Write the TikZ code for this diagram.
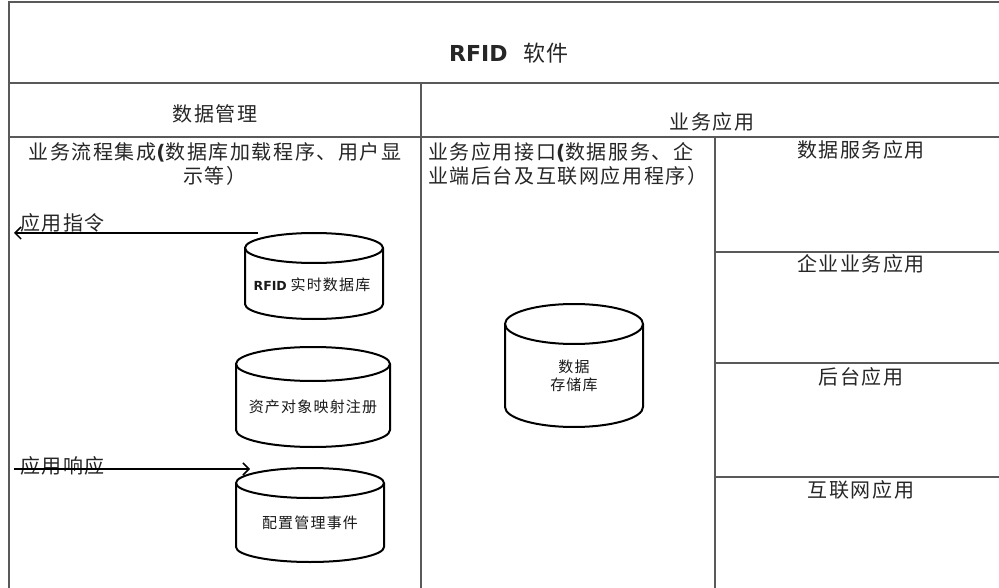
\documentclass[tikz,border=0pt]{standalone}
\usepackage{fontspec}
\setmainfont{DejaVu Sans}
\newfontfamily\cjk[LetterSpace=8]{Noto Sans CJK SC}
\usetikzlibrary{arrows.meta}
\tikzset{
  frameline/.style={draw=black!65, line width=1.4pt},
  cylline/.style={draw=black, line width=2pt},
  txt/.style={inner sep=0pt, text=black!85, font=\cjk\fontsize{20}{24}\selectfont},
  cyltxt/.style={inner sep=0pt, text=black!90, font=\cjk\fontsize{15}{18}\selectfont, align=center},
  flowarrow/.style={draw=black, line width=1.5pt, -{Straight Barb[length=6pt,width=12pt]}},
}
\newcommand\dbcyl[5]{%
  \draw[cylline] (#1,-#2-#5) ellipse [x radius=#4, y radius=#5];
  \draw[cylline] (#1-#4,-#2-#5) -- (#1-#4,-#3+#5)
     arc[start angle=180, end angle=360, x radius=#4, y radius=#5] -- (#1+#4,-#2-#5);
}
\begin{document}
\begin{tikzpicture}[x=1pt,y=1pt]
\useasboundingbox (0,0) rectangle (999,-588);
\fill[white] (0,0) rectangle (999,-588);
% frame
\draw[frameline] (9,-600) -- (9,-2) -- (1010,-2);
\draw[frameline] (9,-83) -- (1010,-83);
\draw[frameline] (9,-137) -- (1010,-137);
\draw[frameline] (421,-83) -- (421,-600);
\draw[frameline] (715,-137) -- (715,-600);
\draw[frameline] (715,-252) -- (1010,-252);
\draw[frameline] (715,-363) -- (1010,-363);
\draw[frameline] (715,-477) -- (1010,-477);
% titles
\node[txt, font=\fontsize{22}{26}\selectfont] (title) at (509,-53)
  {\textbf{RFID}\hspace{0.7em}{\cjk\fontsize{22}{26}\selectfont 软件}};
\node[txt] (dm) at (215,-114) {数据管理};
\node[txt] (ba) at (712,-122) {业务应用};
\node[txt, align=center] (flow) at (215,-164)
  {业务流程集成{\normalfont\bfseries\fontsize{20}{24}\selectfont (}数据库加载程序、用户显\\示等）};
\node[txt, align=left, anchor=west] (iface) at (428,-164)
  {业务应用接口{\normalfont\bfseries\fontsize{20}{24}\selectfont (}数据服务、企\\业端后台及互联网应用程序）};
\node[txt] (a1) at (861,-150) {数据服务应用};
\node[txt] (a2) at (861,-264) {企业业务应用};
\node[txt] (a3) at (861,-377) {后台应用};
\node[txt] (a4) at (861,-490) {互联网应用};
% cylinders
\dbcyl{314}{233}{319}{69}{15}
\node[cyltxt] (rt) at (312,-285)
  {{\normalfont\bfseries\fontsize{12.5}{14}\selectfont RFID}\hspace{0.25em}实时数据库};
\dbcyl{313}{347}{447}{77}{17}
\node[cyltxt] (asset) at (313,-407) {资产对象映射注册};
\dbcyl{310}{468}{562}{74}{15}
\node[cyltxt] (cfg) at (310,-523) {配置管理事件};
\dbcyl{574}{304}{427}{69}{20}
\node[cyltxt] (store) at (574,-376) {数据\\存储库};
% arrows
\node[txt, anchor=west] (cmd) at (20,-223) {应用指令};
\coordinate (cmdS) at (258,-233);
\coordinate (cmdE) at (14,-233);
\draw[flowarrow] (cmdS) -- (cmdE);
\node[txt, anchor=west] (resp) at (20,-466) {应用响应};
\coordinate (respS) at (14,-469);
\coordinate (respE) at (250,-469);
\draw[flowarrow] (respS) -- (respE);
\end{tikzpicture}
\end{document}
